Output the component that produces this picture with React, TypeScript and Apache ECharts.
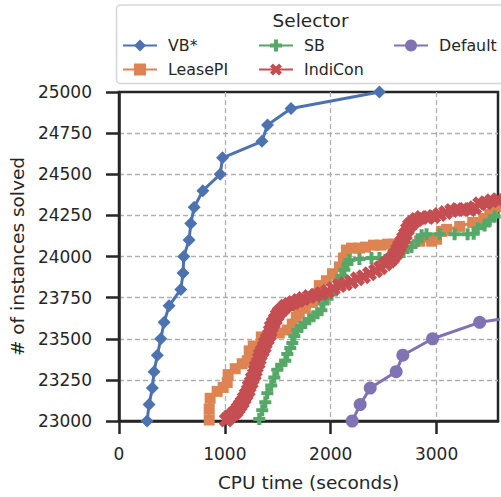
import React, { useEffect, useRef } from "react";
import * as echarts from "echarts";

const FONT = "DejaVu Sans";
const TEXT = "#262626";

// VB* (blue diamonds)
const vbX = [265, 284, 315, 331, 362, 395, 426, 473, 584, 605, 612, 662, 678, 710, 792, 956, 978, 1350, 1403, 1625, 2460];
const vbY = [23000, 23100, 23200, 23300, 23400, 23500, 23600, 23700, 23800, 23900, 24000, 24100, 24200, 24300, 24400, 24500, 24600, 24700, 24800, 24900, 25000];

// LeasePI (orange squares)
const leaseX = [842, 852, 852, 861, 927, 984, 1022, 1031, 1098, 1164, 1211, 1230, 1268, 1344, 1420, 1514, 1590, 1637, 1675, 1703, 1760, 1826, 1874, 1893, 1959, 2016, 2082, 2120, 2148, 2196, 2271, 2328, 2404, 2470, 2536, 2593, 2650, 2839, 2953, 3000, 3047, 3095, 3218, 3341, 3445, 3502, 3530, 3577, 3643];
const leaseY = [22970, 23006, 23072, 23138, 23180, 23204, 23234, 23282, 23318, 23348, 23366, 23426, 23456, 23511, 23523, 23535, 23553, 23589, 23631, 23661, 23685, 23721, 23775, 23823, 23853, 23895, 23937, 23991, 24039, 24051, 24051, 24057, 24069, 24069, 24075, 24075, 24075, 24093, 24093, 24105, 24153, 24165, 24183, 24207, 24231, 24255, 24291, 24303, 24315];

// SB (green plus)
const sbX = [1306, 1325, 1353, 1382, 1401, 1438, 1467, 1495, 1533, 1571, 1590, 1618, 1637, 1656, 1684, 1722, 1750, 1798, 1836, 1874, 1912, 1931, 1968, 2006, 2044, 2073, 2101, 2129, 2158, 2177, 2271, 2385, 2460, 2555, 2631, 2688, 2763, 2820, 2858, 2905, 3028, 3170, 3293, 3350, 3388, 3454, 3502, 3549, 3587, 3650];
const sbY = [22970, 23012, 23066, 23114, 23168, 23216, 23264, 23312, 23342, 23366, 23408, 23444, 23474, 23517, 23553, 23571, 23595, 23619, 23637, 23655, 23673, 23715, 23745, 23769, 23805, 23853, 23883, 23919, 23955, 23979, 23985, 23991, 23991, 24003, 24009, 24027, 24057, 24093, 24129, 24135, 24135, 24135, 24135, 24138, 24171, 24189, 24219, 24243, 24255, 24273];

// IndiCon (red X)
const indiX = [990, 1013, 1041, 1079, 1107, 1126, 1145, 1164, 1183, 1202, 1221, 1230, 1249, 1259, 1278, 1287, 1297, 1315, 1325, 1334, 1353, 1372, 1382, 1401, 1420, 1429, 1438, 1457, 1476, 1495, 1514, 1543, 1571, 1609, 1647, 1694, 1741, 1798, 1855, 1912, 1968, 2025, 2082, 2139, 2196, 2252, 2309, 2366, 2423, 2470, 2517, 2555, 2584, 2612, 2631, 2650, 2669, 2688, 2706, 2725, 2744, 2773, 2811, 2858, 2915, 2972, 3028, 3085, 3142, 3199, 3255, 3312, 3359, 3407, 3464, 3520, 3577, 3643];
const indiY = [22980, 23006, 23024, 23042, 23060, 23078, 23096, 23114, 23138, 23162, 23186, 23210, 23234, 23258, 23282, 23306, 23330, 23354, 23378, 23402, 23426, 23450, 23474, 23498, 23523, 23547, 23571, 23595, 23619, 23643, 23661, 23679, 23697, 23709, 23721, 23733, 23745, 23757, 23763, 23775, 23787, 23805, 23823, 23835, 23847, 23865, 23877, 23895, 23913, 23931, 23955, 23973, 23991, 24015, 24039, 24063, 24087, 24111, 24135, 24165, 24189, 24207, 24225, 24237, 24237, 24243, 24255, 24267, 24279, 24285, 24285, 24285, 24297, 24321, 24327, 24339, 24345, 24351];

// Default (purple circles)
const defX = [2203, 2278, 2373, 2618, 2681, 2962, 3407, 4450];
const defY = [23000, 23100, 23200, 23300, 23400, 23500, 23600, 23700];

const seriesNames = ["VB*", "LeasePI", "SB", "IndiCon", "Default"];
const colors = ["#4C72B0", "#DD8452", "#55A868", "#C44E52", "#8172B3"];

const PLUS = "path://M1,0H2V1H3V2H2V3H1V2H0V1H1Z";
const XMARK = "path://M0,1L1,0L2,1L3,0L4,1L3,2L4,3L3,4L2,3L1,4L0,3L1,2Z";

const zip = (xs: number[], ys: number[]) => xs.map((x, i) => [x, ys[i]]);

export default function App() {
  const ref = useRef<HTMLDivElement>(null);
  useEffect(() => {
    if (!ref.current) return;
    const chart = echarts.init(ref.current, undefined, { renderer: "svg" });
    const mk = (i: number, xs: number[], ys: number[], symbol: string, size: number) => ({
      name: seriesNames[i],
      type: "line",
      data: zip(xs, ys),
      symbol,
      symbolSize: size,
      showAllSymbol: true,
      clip: true,
      color: colors[i],
      lineStyle: { width: 3, color: colors[i] },
      itemStyle: { color: colors[i] },
      emphasis: { disabled: true },
    });
    const legendCommon = {
      orient: "vertical",
      top: 37.5,
      padding: 0,
      itemWidth: 34,
      itemHeight: 15,
      itemGap: 8,
      selectedMode: false,
      textStyle: { fontFamily: FONT, fontSize: 15.8, color: TEXT, padding: [0, 0, 0, 6] },
    };
    const fmt = (v: number) => String(v);
    const split = {
      show: true,
      showMinLine: false,
      showMaxLine: false,
      lineStyle: { color: "#b0b0b0", width: 1.3, type: [5, 3] },
    };
    chart.setOption({
      animation: false,
      backgroundColor: "#ffffff",
      grid: {
        left: 119,
        top: 92,
        width: 379,
        height: 333,
        show: true,
        borderColor: TEXT,
        borderWidth: 2.5,
        containLabel: false,
      },
      graphic: [
        {
          type: "rect",
          shape: { x: 116.5, y: 5, width: 400, height: 78.5, r: 4 },
          style: { fill: "#ffffff", stroke: "#d6d6d6", lineWidth: 1.5 },
          z: 0,
        },
        {
          type: "text",
          x: 310.5,
          y: 20.5,
          style: {
            text: "Selector",
            fontFamily: FONT,
            fontSize: 18.5,
            fill: TEXT,
            align: "center",
            verticalAlign: "middle",
          },
          z: 1,
        },
      ],
      legend: [
        { ...legendCommon, left: 122, data: ["VB*", "LeasePI"] },
        { ...legendCommon, left: 258, data: ["SB", "IndiCon"] },
        { ...legendCommon, left: 393, data: ["Default"] },
      ],
      xAxis: {
        type: "value",
        min: 0,
        max: 3580,
        interval: 1000,
        name: "CPU time (seconds)",
        nameLocation: "middle",
        nameGap: 52,
        nameTextStyle: { fontFamily: FONT, fontSize: 18.5, color: TEXT },
        axisLine: { show: true, lineStyle: { color: TEXT, width: 2.5 } },
        axisTick: { show: true, length: 13, lineStyle: { color: TEXT, width: 2.5 } },
        axisLabel: { fontFamily: FONT, fontSize: 17, color: TEXT, margin: 24, showMaxLabel: false, formatter: fmt },
        splitLine: split,
      },
      yAxis: {
        type: "value",
        min: 23000,
        max: 25000,
        interval: 250,
        name: "# of instances solved",
        nameLocation: "middle",
        nameGap: 92,
        nameTextStyle: { fontFamily: FONT, fontSize: 18.5, color: TEXT },
        axisLine: { show: true, lineStyle: { color: TEXT, width: 2.5 } },
        axisTick: { show: true, length: 13, lineStyle: { color: TEXT, width: 2.5 } },
        axisLabel: { fontFamily: FONT, fontSize: 17, color: TEXT, margin: 27, formatter: fmt },
        splitLine: split,
      },
      series: [
        mk(0, vbX, vbY, "diamond", 13),
        mk(1, leaseX, leaseY, "rect", 11),
        mk(2, sbX, sbY, PLUS, 12),
        mk(3, indiX, indiY, XMARK, 15),
        mk(4, defX, defY, "circle", 13),
      ],
    });
    return () => chart.dispose();
  }, []);
  return (
    <div
      ref={ref}
      style={{ position: "fixed", left: 0, top: 0, width: 501, height: 497 }}
    />
  );
}
